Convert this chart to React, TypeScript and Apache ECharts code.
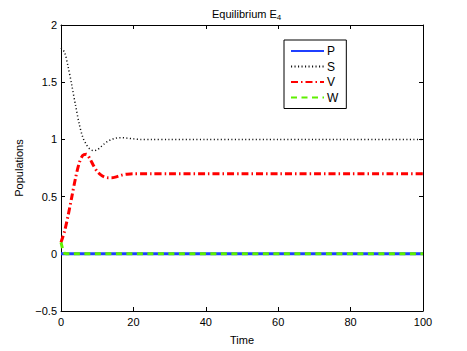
import React, { useEffect, useRef } from "react";
import * as echarts from "echarts";

const seriesNames = ["P", "S", "V", "W"];
const xTicks = [0, 20, 40, 60, 80, 100];
const yTicks = [-0.5, 0, 0.5, 1, 1.5, 2];

const timeP = [0, 100];
const valuesP = [0, 0];

const timeSV = [0, 1, 2, 3, 4, 5, 6, 7, 8, 9, 10, 11, 12, 13, 14, 15, 16, 17, 18, 20, 22, 25, 30, 40, 50, 60, 70, 80, 90, 100];
const valuesS = [1.8, 1.76, 1.63, 1.47, 1.3, 1.14, 1.02, 0.955, 0.915, 0.902, 0.91, 0.935, 0.962, 0.985, 1.0, 1.01, 1.015, 1.015, 1.012, 1.005, 1.0, 1.0, 1.0, 1.0, 1.0, 1.0, 1.0, 1.0, 1.0, 1.0];
const valuesV = [0.1, 0.2, 0.34, 0.5, 0.66, 0.79, 0.86, 0.87, 0.83, 0.77, 0.72, 0.69, 0.672, 0.665, 0.665, 0.67, 0.68, 0.69, 0.695, 0.7, 0.7, 0.7, 0.7, 0.7, 0.7, 0.7, 0.7, 0.7, 0.7, 0.7];

const timeW = [0, 0.3, 0.6, 1, 1.5, 100];
const valuesW = [0.1, 0.06, 0.02, 0.005, 0, 0];

const pairs = (t: number[], v: number[]) => t.map((x, i) => [x, v[i]]);

const FONT = "Liberation Sans, Arial, Helvetica, sans-serif";

export default function App() {
  const ref = useRef<HTMLDivElement>(null);
  useEffect(() => {
    if (!ref.current) return;
    const chart = echarts.init(ref.current, null, { renderer: "svg" });
    const axisCommon = {
      axisLine: { show: true, onZero: false, lineStyle: { color: "#000", width: 1 } },
      axisTick: { show: true, inside: true, length: 4, lineStyle: { color: "#000", width: 1 } },
      splitLine: { show: false },
    };
    chart.setOption({
      animation: false,
      backgroundColor: "#fff",
      textStyle: { fontFamily: FONT },
      title: {
        text: "Equilibrium E{sub|4}",
        left: 207,
        top: 2,
        textStyle: {
          fontFamily: FONT,
          fontSize: 11,
          fontWeight: "normal",
          color: "#000",
          rich: {
            sub: { fontFamily: FONT, fontSize: 8, color: "#000", padding: [6, 0, 0, 0] },
          },
        },
      },
      legend: {
        data: seriesNames,
        orient: "vertical",
        left: 284,
        top: 40,
        width: 60,
        itemWidth: 33,
        itemHeight: 14,
        itemGap: 1.5,
        padding: [4, 8, 4, 6],
        borderColor: "#000",
        borderWidth: 1,
        backgroundColor: "#fff",
        itemStyle: { opacity: 0 },
        textStyle: { fontFamily: FONT, fontSize: 12, color: "#000", padding: [0, 0, 0, -2], lineHeight: 14 },
      },
      grid: { left: 61, right: 44, top: 25, bottom: 40, containLabel: false },
      xAxis: [
        {
          ...axisCommon,
          type: "value",
          min: xTicks[0],
          max: xTicks[xTicks.length - 1],
          interval: 20,
          name: "Time",
          nameLocation: "middle",
          nameGap: 23,
          nameTextStyle: { fontFamily: FONT, fontSize: 11, color: "#000" },
          axisLabel: { fontFamily: FONT, fontSize: 11, color: "#000", margin: 5 },
        },
        {
          ...axisCommon,
          type: "value",
          position: "top",
          min: xTicks[0],
          max: xTicks[xTicks.length - 1],
          interval: 20,
          axisLabel: { show: false },
        },
      ],
      yAxis: [
        {
          ...axisCommon,
          type: "value",
          min: yTicks[0],
          max: yTicks[yTicks.length - 1],
          interval: 0.5,
          name: "Populations",
          nameLocation: "middle",
          nameGap: 36,
          nameRotate: 90,
          nameTextStyle: { fontFamily: FONT, fontSize: 11, color: "#000" },
          axisLabel: {
            fontFamily: FONT,
            fontSize: 11,
            color: "#000",
            margin: 4,
            formatter: (v: number) => String(v).replace("-", "\u2212"),
          },
        },
        {
          ...axisCommon,
          type: "value",
          position: "right",
          min: yTicks[0],
          max: yTicks[yTicks.length - 1],
          interval: 0.5,
          axisLabel: { show: false },
        },
      ],
      series: [
        {
          name: "P",
          type: "line",
          symbol: "none",
          data: pairs(timeP, valuesP),
          lineStyle: { color: "#1f3fff", width: 3, type: "solid" },
          itemStyle: { color: "#1f3fff" },
        },
        {
          name: "S",
          type: "line",
          symbol: "none",
          data: pairs(timeSV, valuesS),
          smooth: 0.3,
          lineStyle: { color: "#111", width: 1.5, type: [1.1, 2.4] },
          itemStyle: { color: "#000" },
        },
        {
          name: "V",
          type: "line",
          symbol: "none",
          data: pairs(timeSV, valuesV),
          smooth: 0.3,
          lineStyle: { color: "#ff0000", width: 3, type: [7, 3, 1.5, 3] },
          itemStyle: { color: "#ff0000" },
        },
        {
          name: "W",
          type: "line",
          symbol: "none",
          data: pairs(timeW, valuesW),
          lineStyle: { color: "#5ef000", width: 3, type: [6, 4.5] },
          itemStyle: { color: "#5ef000" },
        },
      ],
    });
    return () => chart.dispose();
  }, []);
  return (
    <div
      ref={ref}
      style={{ position: "absolute", left: 0, top: 0, width: 467, height: 351 }}
    />
  );
}
